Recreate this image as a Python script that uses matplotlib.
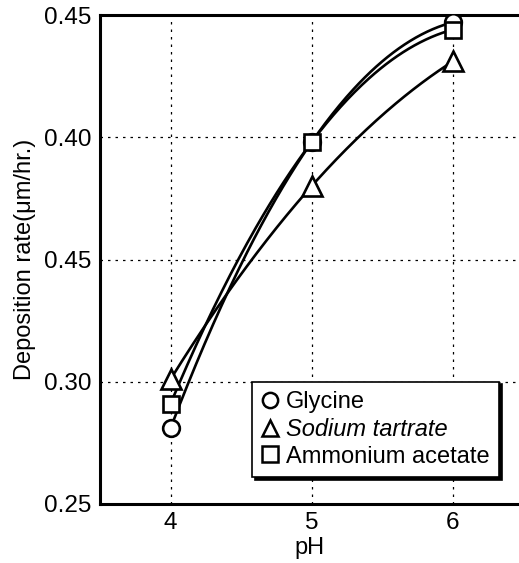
import numpy as np
import matplotlib
matplotlib.use("Agg")
import matplotlib.pyplot as plt

plt.rcParams['font.family'] = ['Liberation Sans', 'DejaVu Sans']

ph = [4, 5, 6]
glycine = [0.281, 0.398, 0.447]
sodium_tartrate = [0.301, 0.380, 0.431]
ammonium_acetate = [0.291, 0.398, 0.444]
series_names = ["Glycine", "Sodium tartrate", "Ammonium acetate"]
markers = ["o", "^", "s"]
ytick_vals = [0.25, 0.30, 0.35, 0.40, 0.45]
ytick_labels = ["0.25", "0.30", "0.45", "0.40", "0.45"]
xtick_vals = [4, 5, 6]

fig = plt.figure(figsize=(5.19, 5.63), dpi=100)
ax = fig.add_axes([100/519, 59/563, 1 - 100/519, (504-15)/563])

xs = np.linspace(4, 6, 200)
msizes = [12, 14, 12]
for vals, name, m, ms in zip([glycine, sodium_tartrate, ammonium_acetate], series_names, markers, msizes):
    coef = np.polyfit(ph, vals, 2)
    ax.plot(xs, np.polyval(coef, xs), color='black', lw=1.9, zorder=3)
    ax.plot(ph, vals, linestyle='none', marker=m, ms=ms, mfc='white', mec='black', mew=1.9, zorder=4, label=name)

ax.set_xlim(3.5, 6.47)
ax.set_ylim(0.25, 0.45)
ax.set_xticks(xtick_vals)
ax.set_yticks(ytick_vals)
ax.set_yticklabels(ytick_labels)
ax.tick_params(length=0, labelsize=17.5, pad=6)
ax.grid(True, color='black', linestyle=(0, (2, 4)), lw=0.9)
ax.set_axisbelow(True)
for s in ['left', 'bottom', 'top']:
    ax.spines[s].set_linewidth(2.2)
ax.spines['right'].set_visible(False)

ax.set_xlabel("pH", fontsize=17, labelpad=2)
ax.set_ylabel("Deposition rate(μm/hr.)", fontsize=17, labelpad=6)

leg = ax.legend(handles=[plt.Line2D([], [], ls='none', marker=m, ms=11, mfc='white', mec='black', mew=1.8) for m in markers],
                labels=series_names, loc='lower left', bbox_to_anchor=((252-100)/419, (504-477)/489),
                bbox_transform=ax.transAxes, fontsize=17, frameon=True, fancybox=False,
                shadow={'color': 'black', 'alpha': 1}, handlelength=0.7, handletextpad=0.35,
                borderpad=0.4, labelspacing=0.2, borderaxespad=0)
leg.get_frame().set_edgecolor('black')
leg.get_frame().set_linewidth(1.2)
leg.get_texts()[1].set_style('italic')

fig.savefig("out.png", dpi=100)
